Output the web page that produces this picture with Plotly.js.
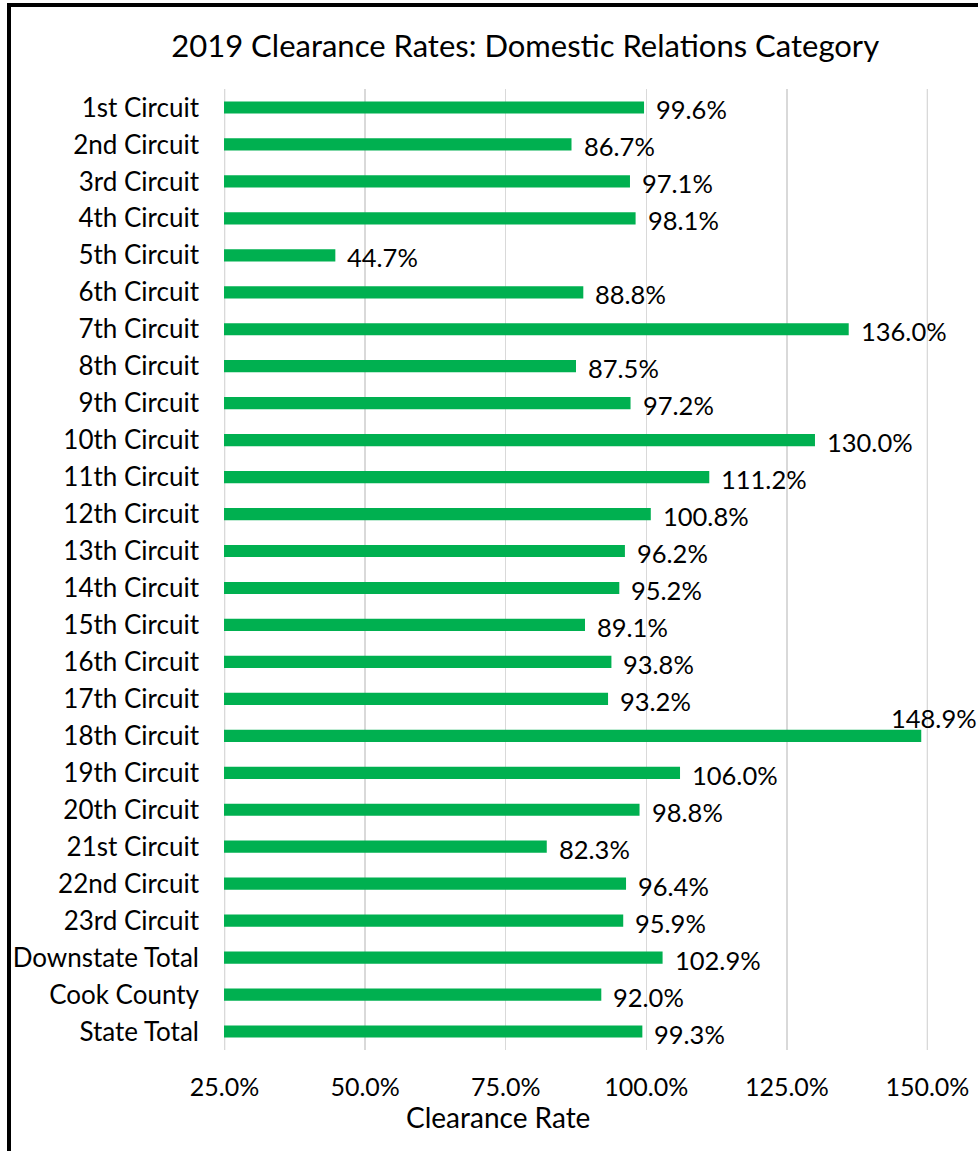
<!DOCTYPE html>
<html>
<head>
<meta charset="utf-8">
<script src="https://cdn.plot.ly/plotly-3.0.1.min.js"></script>
<style>
html, body { margin: 0; padding: 0; overflow: hidden; background: #fff; }
#chart { width: 978px; height: 1151px; }
#frame { position: absolute; left: 7px; top: 3px; width: 3000px; height: 3000px; border: 4px solid #000; pointer-events: none; }
</style>
</head>
<body>
<div id="chart"></div>
<div id="frame"></div>
<script>
const categories = ["1st Circuit","2nd Circuit","3rd Circuit","4th Circuit","5th Circuit","6th Circuit","7th Circuit","8th Circuit","9th Circuit","10th Circuit","11th Circuit","12th Circuit","13th Circuit","14th Circuit","15th Circuit","16th Circuit","17th Circuit","18th Circuit","19th Circuit","20th Circuit","21st Circuit","22nd Circuit","23rd Circuit","Downstate Total","Cook County","State Total"];
const clearanceRates = [99.6,86.7,97.1,98.1,44.7,88.8,136.0,87.5,97.2,130.0,111.2,100.8,96.2,95.2,89.1,93.8,93.2,148.9,106.0,98.8,82.3,96.4,95.9,102.9,92.0,99.3];
const tickValues = [25,50,75,100,125,150];
const tickLabels = ["25.0%","50.0%","75.0%","100.0%","125.0%","150.0%"];

const font = "Lato, 'Open Sans', sans-serif";

const bars = {
  type: "bar",
  orientation: "h",
  x: clearanceRates,
  y: categories,
  marker: { color: "#00B050" },
  width: 0.33,
  hoverinfo: "x+y",
  showlegend: false
};

const annotations = clearanceRates.map((v, i) => {
  const high = v > 145;
  return {
    x: v,
    y: categories[i],
    xref: "x",
    yref: "y",
    text: v.toFixed(1) + "%",
    showarrow: false,
    xanchor: high ? "center" : "left",
    yanchor: "middle",
    xshift: high ? 13 : 10,
    yshift: high ? 18 : -2,
    font: { family: font, size: 25.5, color: "#000" }
  };
});

annotations.push({
  text: "Clearance Rate",
  xref: "paper", yref: "paper",
  x: (498 - 224) / (978 - 224 - 50), y: -0.07,
  xanchor: "center", yanchor: "middle",
  showarrow: false,
  font: { family: font, size: 28, color: "#000" }
});

// edge gridlines (Plotly omits gridlines at the range ends)
const edgeGrid = [tickValues[0], tickValues[tickValues.length - 1]].map(t => ({
  type: "line", xref: "x", yref: "paper", x0: t, x1: t, y0: 0, y1: 1,
  line: { color: "#d9d9d9", width: 1.5 }, layer: "below"
}));

const layout = {
  width: 978,
  height: 1151,
  margin: { l: 224, r: 50, t: 89, b: 101 },
  paper_bgcolor: "#fff",
  plot_bgcolor: "#fff",
  font: { family: font, size: 24, color: "#000" },
  title: {
    text: "2019 Clearance Rates: Domestic Relations Category",
    font: { family: font, size: 31, color: "#000" },
    x: 0.537, xanchor: "center", y: 0.96, yanchor: "middle"
  },
  xaxis: {
    range: [24.9, 150.1],
    tickvals: tickValues,
    ticktext: tickLabels,
    showgrid: true,
    gridcolor: "#d9d9d9",
    gridwidth: 1.5,
    zeroline: false,
    showline: false,
    ticks: "",
    ticklabelstandoff: 20,
    tickfont: { family: font, size: 25, color: "#000" }
  },
  yaxis: {
    type: "category",
    range: [categories.length - 0.5, -0.5],
    showgrid: false,
    zeroline: false,
    showline: false,
    ticks: "",
    ticklabelstandoff: 24,
    tickfont: { family: font, size: 26, color: "#000" }
  },
  shapes: edgeGrid,
  annotations: annotations
};

Plotly.newPlot("chart", [bars], layout, { displayModeBar: false, staticPlot: true });
</script>
</body>
</html>
